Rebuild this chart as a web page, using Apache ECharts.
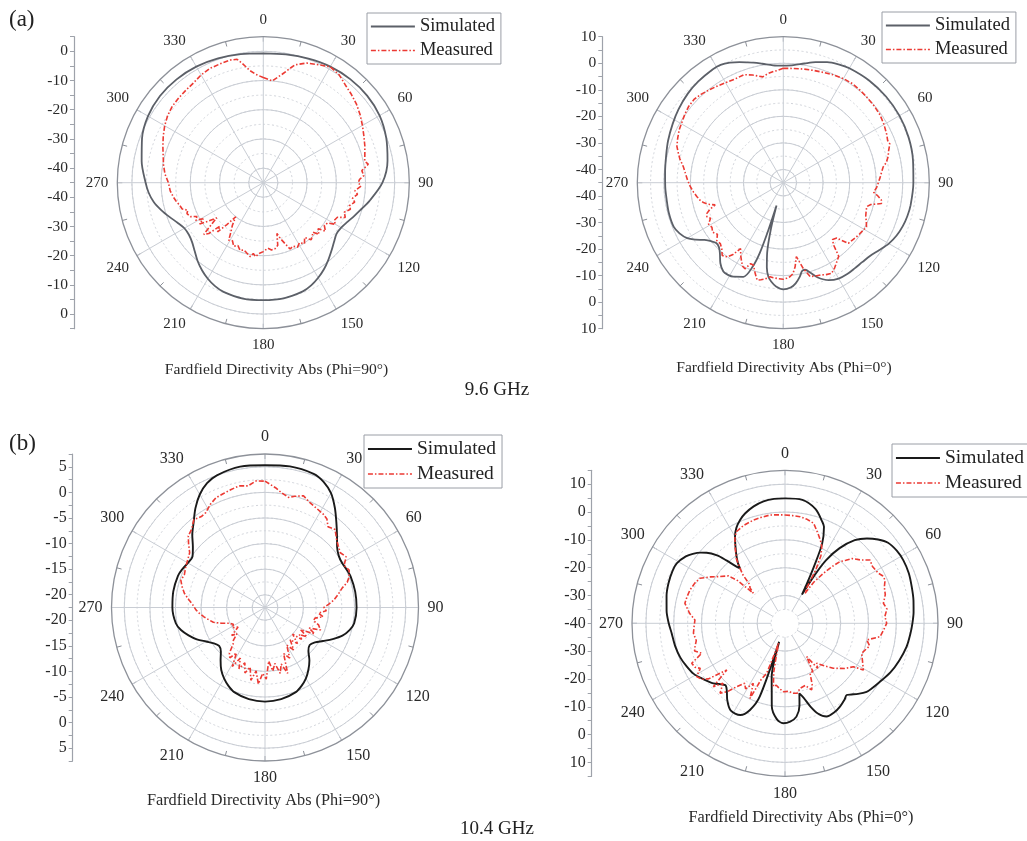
<!DOCTYPE html>
<html><head><meta charset="utf-8">
<script src="https://cdn.jsdelivr.net/npm/echarts@6/dist/echarts.min.js"></script>
<style>html,body{margin:0;padding:0;background:#fff;}#c{width:1027px;height:841px;}</style>
</head><body><div id="c"></div>
<script>
// ---------- tick labels ----------
const angleTicks = ['0','30','60','90','120','150','180','210','240','270','300','330'];
const side1 = ['','0','','-10','','-20','','-30','','-40','','-40','','-30','','-20','','-10','','0',''];
const side2 = ['10','','0','','-10','','-20','','-30','','-40','','-40','','-30','','-20','','-10','','0','','10'];
const side3 = ['','5','','0','','-5','','-10','','-15','','-20','','-20','','-15','','-10','','-5','','0','','5',''];
const side4 = ['','10','','0','','-10','','-20','','-30','','-40','','-30','','-20','','-10','','0','','10',''];
const seriesNames = ['Simulated','Measured'];

// ---------- data: [angle (deg), directivity (dB)] ----------
const sim1 = [[0,-0.7],[10,-0.4],[20,0.2],[30,0.9],[40,1.3],[50,1.4],[60,1.0],[70,-0.2],[80,-1.8],[90,-4.2],[100,-8.2],[105,-10.2],[110,-11.8],[115,-13.2],[120,-14.2],[125,-14.4],[130,-13.4],[135,-12.0],[140,-10.4],[145,-8.8],[150,-7.4],[155,-6.2],[160,-5.4],[170,-4.8],[180,-4.8],[190,-4.7],[200,-5.2],[205,-5.9],[210,-7.0],[215,-8.4],[220,-10.0],[225,-11.8],[230,-13.2],[235,-13.9],[240,-13.8],[245,-12.6],[250,-10.8],[255,-8.8],[260,-6.9],[265,-5.6],[270,-4.7],[280,-2.7],[290,-0.8],[300,0.6],[310,1.2],[320,1.2],[330,0.9],[340,0.3],[350,-0.3],[360,-0.7]];
const mea1 = [[0,-9.0],[5,-10.0],[10,-7.2],[15,-3.2],[20,-1.4],[25,-0.4],[30,0.8],[35,0.2],[40,-1.3],[45,-2.3],[50,-3.3],[55,-4.5],[60,-5.8],[65,-7.0],[70,-8.0],[75,-9.0],[78,-9.5],[80,-8.5],[83,-11.0],[86,-10.5],[88,-12.0],[90,-12.5],[92,-11.5],[95,-13.5],[97,-12.5],[100,-14.0],[102,-13.0],[105,-14.5],[107,-13.8],[110,-15.5],[113,-14.5],[115,-17.0],[118,-17.5],[120,-16.5],[122,-19.0],[125,-19.5],[128,-18.0],[130,-20.5],[133,-19.0],[135,-21.0],[138,-20.0],[140,-19.5],[143,-21.5],[146,-19.8],[149,-21.0],[152,-20.0],[155,-21.0],[158,-20.5],[160,-22.5],[163,-25.0],[165,-27.0],[167,-23.0],[170,-22.0],[173,-21.8],[176,-22.5],[180,-21.4],[183,-20.8],[186,-19.5],[188,-20.5],[190,-19.3],[193,-20.2],[196,-21.0],[199,-20.5],[202,-21.8],[205,-21.0],[208,-22.5],[211,-22.0],[213,-24.5],[216,-27.0],[219,-30.0],[221,-26.0],[223,-22.0],[225,-24.0],[227,-19.5],[229,-18.0],[231,-22.0],[233,-25.0],[235,-22.0],[237,-19.0],[239,-21.0],[241,-18.5],[243,-19.5],[245,-17.5],[248,-16.8],[250,-17.5],[252,-15.8],[255,-15.3],[258,-14.5],[261,-13.8],[265,-13.0],[270,-12.5],[275,-11.2],[280,-10.3],[285,-9.5],[290,-8.4],[295,-7.2],[300,-6.0],[305,-5.0],[310,-4.3],[315,-4.0],[320,-3.7],[325,-3.3],[330,-2.4],[335,-1.8],[340,-1.7],[345,-1.5],[348,-1.8],[350,-3.5],[353,-6.2],[356,-7.8],[360,-9.0]];

const sim2 = [[0,-0.9],[5,-0.5],[10,0.6],[15,2.0],[20,3.3],[25,4.2],[30,4.8],[40,5.3],[50,5.5],[60,5.5],[70,5.2],[80,4.6],[90,4.0],[100,3.7],[105,3.4],[110,2.9],[115,2.1],[120,0.9],[125,-0.8],[130,-2.2],[135,-2.8],[140,-3.0],[145,-3.0],[150,-3.3],[155,-4.5],[160,-7.0],[163,-9.4],[166,-11.2],[168,-11.0],[170,-9.1],[173,-6.8],[176,-5.4],[180,-4.8],[184,-5.8],[187,-7.5],[189,-9.1],[191,-12.5],[193,-18],[195,-27],[196.5,-36],[197.5,-26],[198.5,-17],[200,-11.4],[203,-6.5],[208,-4.9],[211,-4.5],[214,-4.6],[218,-6.5],[222,-9.3],[225,-10.7],[228,-11.0],[231,-10.0],[234,-8.3],[237,-5.6],[240,-3.2],[244,-1.5],[248,-0.5],[255,-0.4],[262,-0.6],[268,-0.5],[275,-0.3],[283,0.3],[290,1.2],[298,2.2],[305,3.2],[313,4.2],[320,4.8],[328,5.3],[332,5.3],[336,4.5],[340,3.3],[343,2.4],[346,1.6],[350,0.5],[355,-0.6],[360,-0.9]];
const mea2 = [[0,-1.9],[5,-1.8],[10,-1.5],[15,-1.2],[20,-0.8],[25,-0.2],[30,0.3],[35,0.5],[40,0.3],[45,0.0],[50,-0.2],[55,-0.5],[60,-1.2],[65,-2.0],[68,-2.6],[70,-2.3],[73,-3.5],[76,-4.3],[79,-5.5],[81,-6.9],[84,-7.8],[87,-8.5],[90,-9.2],[93,-9.8],[96,-10.8],[98,-9.0],[100,-7.5],[102,-7.2],[104,-11.0],[106,-12.3],[109,-12.0],[112,-11.5],[115,-10.5],[118,-9.5],[121,-10.0],[124,-10.4],[127,-10.8],[130,-11.2],[133,-11.5],[136,-16.0],[139,-16.7],[141,-15.0],[143,-10.3],[146,-9.0],[149,-7.5],[152,-6.3],[155,-6.8],[158,-7.5],[161,-7.8],[164,-8.2],[167,-12.0],[170,-16.7],[172,-13.0],[174,-10.5],[176,-9.5],[178,-9.0],[180,-8.6],[183,-8.8],[186,-9.0],[188,-9.2],[191,-8.0],[193,-7.5],[195,-7.0],[197,-9.0],[200,-12.0],[202,-12.1],[204,-9.5],[206,-10.0],[208,-11.5],[210,-13.0],[213,-15.4],[215,-12.0],[217,-10.0],[220,-9.2],[223,-11.0],[226,-12.0],[229,-11.8],[232,-13.5],[235,-12.5],[238,-13.3],[241,-12.8],[244,-14.5],[246,-13.5],[248,-13.9],[250,-15.5],[252,-18.0],[254,-15.5],[256,-14.0],[258,-13.0],[261,-12.0],[264,-11.0],[268,-9.8],[272,-8.8],[276,-7.8],[279,-6.9],[283,-5.0],[286,-3.8],[289,-2.6],[293,-1.8],[297,-1.0],[301,-0.5],[305,0.2],[309,0.8],[313,1.0],[317,0.5],[321,-0.2],[325,-0.8],[330,-1.5],[335,-1.9],[340,-1.7],[344,-2.8],[347,-3.8],[349,-4.4],[352,-3.5],[355,-2.9],[357,-2.7],[360,-1.9]];

const sim3 = [[0,5.3],[10,5.5],[20,5.3],[25,4.6],[30,3.3],[35,1.3],[40,-0.8],[45,-2.6],[50,-4.1],[55,-4.9],[60,-5.1],[65,-4.9],[70,-4.7],[80,-4.6],[90,-4.6],[100,-4.8],[105,-5.4],[110,-6.4],[115,-7.9],[120,-9.4],[125,-10.6],[130,-11.1],[135,-10.5],[140,-9.0],[145,-7.7],[150,-6.5],[155,-5.6],[160,-4.9],[170,-4.3],[180,-4.1],[190,-4.3],[200,-4.9],[205,-5.6],[210,-6.5],[215,-7.6],[220,-9.0],[225,-10.3],[230,-10.8],[235,-10.3],[240,-9.2],[245,-7.8],[250,-6.6],[255,-5.5],[260,-4.8],[270,-4.4],[280,-4.3],[290,-4.4],[295,-4.7],[300,-5.1],[305,-5.2],[310,-4.1],[315,-2.4],[320,-0.8],[325,1.2],[330,3.0],[335,4.3],[340,5.0],[350,5.45],[360,5.3]];
const mea3 = [[0,2.2],[5,1.0],[8,0.2],[12,-0.5],[15,0.0],[19,0.6],[23,-0.2],[28,-0.7],[32,-1.0],[35,-1.4],[38,-2.5],[42,-2.0],[46,-3.1],[50,-3.8],[54,-4.3],[58,-3.8],[62,-5.0],[66,-4.5],[70,-5.0],[73,-5.7],[76,-7.0],[80,-8.0],[84,-9.0],[87,-10.0],[90,-11.0],[93,-10.5],[96,-12.0],[99,-11.0],[102,-12.5],[105,-12.7],[108,-11.5],[112,-10.8],[115,-13.0],[118,-11.5],[122,-14.3],[125,-12.5],[128,-14.0],[131,-13.0],[134,-15.0],[138,-13.0],[142,-14.5],[146,-12.5],[150,-14.0],[154,-11.5],[158,-12.8],[161,-8.9],[164,-11.0],[167,-9.3],[170,-11.4],[173,-10.0],[176,-12.0],[179,-8.5],[182,-9.6],[185,-7.5],[188,-10.0],[191,-8.0],[194,-10.5],[197,-9.1],[200,-11.0],[203,-9.5],[206,-11.5],[209,-9.3],[212,-12.0],[215,-10.5],[218,-11.2],[221,-13.0],[224,-13.6],[227,-15.0],[230,-14.0],[234,-16.0],[238,-15.0],[242,-15.5],[246,-14.9],[250,-13.5],[254,-12.0],[257,-11.4],[261,-10.5],[265,-9.6],[268,-9.0],[272,-8.4],[276,-7.5],[280,-6.5],[284,-5.8],[288,-5.2],[292,-5.5],[297,-5.1],[301,-4.8],[306,-4.3],[310,-3.0],[313,-2.0],[317,-1.5],[321,-0.4],[325,-0.8],[328,-0.65],[332,0.3],[336,1.0],[340,1.2],[344,1.5],[348,1.8],[352,1.5],[356,2.3],[360,2.2]];

const sim4 = [[0,4.9],[8,4.8],[15,2.5],[20,-1.0],[22,-2.6],[25,-8.4],[27,-17],[29,-24],[30.5,-28],[31.5,-20],[33,-13],[36,-6.6],[40,-1.0],[44,2.4],[48,5.0],[52,7.0],[57,7.9],[62,8.2],[68,8.0],[74,7.4],[80,6.9],[85,6.4],[90,5.8],[95,5.2],[101,4.5],[108,3.2],[115,1.8],[122,0.0],[127,-1.0],[130,-1.7],[134,-3.5],[137,-5.0],[139.3,-6.0],[142,-5.2],[146.6,-4.1],[151,-3.4],[156,-3.3],[160,-5.5],[163,-8.7],[166,-12.5],[168.4,-14.3],[170,-10],[173,-6.2],[177,-4.6],[181,-4.05],[185,-5.5],[189,-9.7],[191,-15],[194,-20.2],[196,-26],[197.5,-33],[199,-12.2],[202,-6.4],[206,-3.3],[212,-3.1],[217,-5.5],[221,-8.1],[224,-9.1],[230,-6.4],[236,-4.3],[241,-2.5],[247,-1.3],[252,-0.4],[258,0.3],[265,0.9],[270,1.8],[276,2.8],[283,3.7],[289,4.3],[295,4.6],[299,4.5],[304,3.0],[307,1.5],[310,-0.5],[312,-2.1],[315,-5.5],[317,-9.1],[319,-12.5],[320.7,-14.5],[322,-12.5],[325,-9.4],[330,-4.05],[333,-1.5],[336.5,0.5],[340,2.0],[345,3.5],[350,4.5],[355,4.9],[360,4.9]];
const mea4 = [[0,-1.05],[4,-1.2],[8,-1.3],[12,-1.8],[16,-2.6],[20,-5.5],[23,-7.5],[25.6,-9.4],[28,-12.5],[30,-18],[31.5,-25],[33.7,-27],[35,-22],[37.5,-17.4],[40,-13],[41.7,-10.3],[44,-8.5],[46,-6.5],[49.8,-4.7],[53.3,-1.9],[57,-2.5],[61.8,-1.9],[64,-1.0],[66.6,-0.8],[70,-2.0],[74,-2.5],[78.5,-3.9],[82,-3.0],[86,-4.0],[90,-3.45],[94,-4.5],[98,-5.5],[101.5,-10],[105,-8.5],[108,-9.5],[111.4,-10.4],[116,-9.0],[120.8,-7.2],[122.4,-10.9],[127,-13.0],[132.9,-16.3],[137,-19.0],[141.6,-21.7],[144,-20.0],[147,-25.7],[150,-20],[153.4,-19.9],[156,-16],[158.2,-14.2],[162,-16.5],[167,-16],[170,-14.5],[173.2,-14.7],[177,-15.5],[181.4,-15.4],[185,-16.5],[188,-17.5],[190.4,-16.9],[193,-22],[195,-28],[198,-32.5],[199,-28],[200.1,-20.9],[203,-18],[205,-10.2],[207.8,-15.6],[211,-12.5],[214,-14.0],[217.3,-11.4],[220,-8.0],[222.9,-5.7],[226,-9],[228.5,-5.6],[231.3,-13.2],[234,-6.0],[236,-4.0],[238.9,-2.9],[242,-5.5],[244,-4.0],[246.8,-3.5],[250.2,-8.2],[253,-6.0],[255.5,-6.6],[259,-7.5],[263.8,-6.9],[268,-7.3],[272.1,-7.6],[276,-5.5],[281.3,-3.3],[285,-3.5],[289.3,-3.8],[294,-4.5],[297.9,-5.4],[302,-8.5],[305.7,-11.2],[310,-13.5],[312,-17],[313.5,-24.3],[315.5,-22],[317.6,-21.3],[319,-17],[320.7,-14.5],[323,-11],[326.9,-7.1],[330,-4.0],[332.2,-2.7],[337,-1.8],[343,-1.2],[347,-1.0],[352,-0.7],[356,-0.9],[360,-1.05]];

// ---------- layout / style ----------
const FONT = '"Liberation Serif","DejaVu Serif","Times New Roman",serif';
const RED = '#ec3a33';
const GRID = '#c9cdd4';
const FRAME = '#8d9199';
const DASH = [5,2,1.5,2];
const plots = [
  {cx:263.3, cy:182.7, R:146, c:-45, o:5, mainMin:-45, minor:[-40,0,5], major:[-40,0,10], axisX:74, side:side1, sim:sim1, mea:mea1, simColor:'#5c6068', simW:1.8, title:'Fardfield Directivity Abs (Phi=90°)', tx:276.5, ty:370, lx:367, ly:13, fs:15.6, lfs:18.5, afs:15, sfs:15.5},
  {cx:783.3, cy:182.7, R:146, c:-45, o:10, mainMin:-45, minor:[-40,5,5], major:[-40,0,10], axisX:602.3, side:side2, sim:sim2, mea:mea2, simColor:'#5c6068', simW:1.8, title:'Fardfield Directivity Abs (Phi=0°)', tx:784, ty:367.5, lx:882, ly:12, fs:15.6, lfs:18.5, afs:15, sfs:15.5},
  {cx:265, cy:607.5, R:153.5, c:-22.5, o:7.5, mainMin:-22.5, minor:[-20,5,2.5], major:[-20,5,5], axisX:72.7, side:side3, sim:sim3, mea:mea3, simColor:'#1a1a1a', simW:1.9, title:'Fardfield Directivity Abs (Phi=90°)', tx:263.5, ty:800.5, lx:364, ly:435, fs:16.3, lfs:19.5, afs:16, sfs:16},
  {cx:785, cy:623.3, R:153, c:-40, o:15, mainMin:-35, minor:[-35,10,5], major:[-30,10,10], axisX:591.7, side:side4, sim:sim4, mea:mea4, simColor:'#1a1a1a', simW:1.9, title:'Fardfield Directivity Abs (Phi=0°)', tx:801, ty:817.5, lx:892, ly:444, fs:16.3, lfs:19.5, afs:16, sfs:16}
];

const polar = [], angleAxis = [], radiusAxis = [], series = [], legend = [], grid = [], xAxis = [], yAxis = [], graphic = [];
plots.forEach((p, i) => {
  const k = p.R / (p.o - p.c);
  const rr = v => (v - p.c) * k;
  const base = polar.length;
  polar.push({center:[p.cx, p.cy], radius:[rr(p.mainMin), p.R]});          // spokes, ticks, labels, data
  polar.push({center:[p.cx, p.cy], radius:[rr(p.minor[0]), rr(p.minor[1])]}); // dotted rings
  polar.push({center:[p.cx, p.cy], radius:[rr(p.major[0]), rr(p.major[1])]}); // solid rings
  polar.push({center:[p.cx, p.cy], radius:[0, p.R]});                        // outer frame circle
  angleAxis.push({
    polarIndex: base, type:'value', min:0, max:360, interval:30, startAngle:90, clockwise:true, z:3,
    axisLine:{show:false},
    axisTick:{show:true, inside:true, length:5, lineStyle:{color:FRAME}},
    minorTick:{show:true, splitNumber:2, length:5, lineStyle:{color:FRAME}},
    axisLabel:{margin:9, fontSize:p.afs, fontFamily:FONT, color:'#2a2a2a', formatter: v => angleTicks[Math.round(v/30)] || ''},
    splitLine:{show:true, lineStyle:{color:GRID, width:1}}
  });
  angleAxis.push({polarIndex: base+1, type:'value', min:0, max:360, startAngle:90, show:false});
  angleAxis.push({polarIndex: base+2, type:'value', min:0, max:360, startAngle:90, show:false});
  angleAxis.push({polarIndex: base+3, type:'value', min:0, max:360, startAngle:90, z:4,
    axisLine:{show:true, lineStyle:{color:FRAME, width:1.3}}, axisTick:{show:false}, axisLabel:{show:false}, splitLine:{show:false}});
  radiusAxis.push({polarIndex: base, type:'value', min:p.mainMin, max:p.o, show:false});
  radiusAxis.push({polarIndex: base+1, type:'value', min:p.minor[0], max:p.minor[1], interval:p.minor[2], z:1,
    axisLine:{show:false}, axisTick:{show:false}, axisLabel:{show:false},
    splitLine:{show:true, lineStyle:{color:'#d2d5db', width:1, type:[2,2.5]}}});
  radiusAxis.push({polarIndex: base+2, type:'value', min:p.major[0], max:p.major[1], interval:p.major[2], z:2,
    axisLine:{show:false}, axisTick:{show:false}, axisLabel:{show:false},
    splitLine:{show:true, lineStyle:{color:GRID, width:1}}});
  radiusAxis.push({polarIndex: base+3, type:'value', min:0, max:1, show:false});
  series.push({
    type:'line', name:seriesNames[0], coordinateSystem:'polar', polarIndex:base, z:5,
    data: p.sim.map(d => [d[1], d[0]]), symbol:'none', smooth:0.3, animation:false,
    lineStyle:{color:p.simColor, width:p.simW}, itemStyle:{color:p.simColor}
  });
  series.push({
    type:'line', name:seriesNames[1], coordinateSystem:'polar', polarIndex:base, z:6,
    data: p.mea.map(d => [d[1], d[0]]), symbol:'none', smooth:false, animation:false,
    lineStyle:{color:RED, width:1.6, type:DASH}, itemStyle:{color:RED}
  });
  const noMark = {color:'rgba(0,0,0,0)', borderColor:'rgba(0,0,0,0)', borderWidth:0, opacity:0};
  legend.push({
    orient:'vertical', left:p.lx, top:p.ly, itemWidth:44, itemHeight:14, itemGap:5,
    padding:[4,6,4,3], borderColor:'#9a9ea6', borderWidth:1, selectedMode:false,
    textStyle:{fontFamily:FONT, fontSize:p.lfs, color:'#222'},
    data:[
      {name:seriesNames[0], itemStyle:noMark, lineStyle:{color:p.simColor, width:p.simW, type:'solid', opacity:1}},
      {name:seriesNames[1], itemStyle:noMark, lineStyle:{color:RED, width:1.6, type:DASH, opacity:1}}
    ]
  });
  grid.push({left:p.axisX, top:p.cy - p.R, width:1, height:2*p.R});
  xAxis.push({gridIndex:i, type:'value', show:false});
  yAxis.push({gridIndex:i, type:'category', data:p.side, inverse:true, boundaryGap:false,
    axisLine:{show:true, lineStyle:{color:'#9ea2aa', width:1.2}},
    axisTick:{show:true, length:4, interval:0, lineStyle:{color:'#9ea2aa'}},
    axisLabel:{interval:0, margin:6, fontSize:p.sfs, fontFamily:FONT, color:'#2a2a2a'},
    splitLine:{show:false}});
  graphic.push({type:'text', x:p.tx, y:p.ty, style:{text:p.title, font:p.fs + 'px ' + FONT, fill:'#2a2a2a', align:'center', verticalAlign:'middle'}});
});
graphic.push({type:'text', x:9, y:20, style:{text:'(a)', font:'23px ' + FONT, fill:'#222', align:'left', verticalAlign:'middle'}});
graphic.push({type:'text', x:9, y:444, style:{text:'(b)', font:'23px ' + FONT, fill:'#222', align:'left', verticalAlign:'middle'}});
graphic.push({type:'text', x:497, y:390, style:{text:'9.6 GHz', font:'19px ' + FONT, fill:'#222', align:'center', verticalAlign:'middle'}});
graphic.push({type:'text', x:497, y:829, style:{text:'10.4 GHz', font:'19px ' + FONT, fill:'#222', align:'center', verticalAlign:'middle'}});

const chart = echarts.init(document.getElementById('c'), null, {renderer:'canvas'});
chart.setOption({animation:false, backgroundColor:'#fff', polar, angleAxis, radiusAxis, grid, xAxis, yAxis, legend, series, graphic});
</script>
</body></html>
